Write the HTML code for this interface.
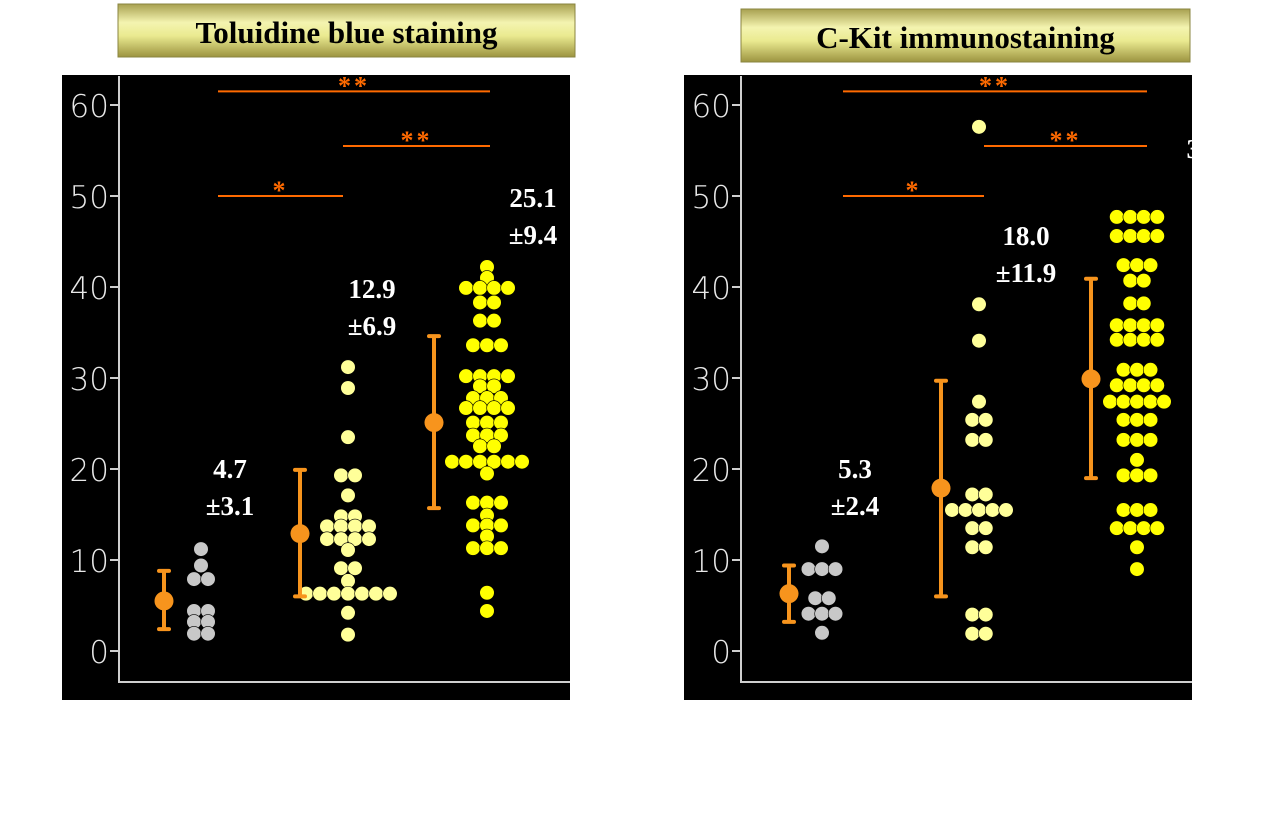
<!DOCTYPE html>
<html><head><meta charset="utf-8"><style>
html,body{margin:0;padding:0;background:#fff;width:1274px;height:836px;overflow:hidden}
svg{display:block}
</style></head><body>
<svg id="chart" width="1274" height="836" xmlns="http://www.w3.org/2000/svg">
<defs><linearGradient id="gold" x1="0" y1="0" x2="0" y2="1">
<stop offset="0" stop-color="#a8a050"/><stop offset="0.35" stop-color="#f4f4b0"/><stop offset="0.6" stop-color="#eaea90"/><stop offset="1" stop-color="#9c9440"/></linearGradient></defs>
</svg>
<script>
// ---- data ----
const yTicks = [0,10,20,30,40,50,60];
const leftTitle = "Toluidine blue staining";
const rightTitle = "C-Kit immunostaining";
const leftG1 = [11.2,9.4,7.9,7.9,4.4,4.4,3.2,3.2,1.9,1.9];
const leftG2 = [31.2,28.9,23.5,19.3,19.3,17.1,14.8,14.8,13.7,13.7,13.7,13.7,12.3,12.3,12.3,12.3,11.1,9.1,9.1,7.7,6.3,6.3,6.3,6.3,6.3,6.3,6.3,4.2,1.8];
const leftG3 = [42.2,41,39.9,39.9,39.9,39.9,38.3,38.3,36.3,36.3,33.6,33.6,33.6,30.2,30.2,30.2,30.2,29.1,29.1,27.8,27.8,27.8,26.7,26.7,26.7,26.7,25.1,25.1,25.1,23.7,23.7,23.7,22.5,22.5,20.8,20.8,20.8,20.8,20.8,20.8,19.5,16.3,16.3,16.3,14.9,13.8,13.8,13.8,12.6,11.3,11.3,11.3,6.4,4.4];
const leftMeans = [5.5,12.9,25.1];
const leftLo = [2.4,6.0,15.7];
const leftHi = [8.8,19.9,34.6];
const leftLabels = [["4.7","±3.1"],["12.9","±6.9"],["25.1","±9.4"]];
const rightG1 = [11.5,9.0,9.0,9.0,5.8,5.8,4.1,4.1,4.1,2.0];
const rightG2 = [57.6,38.1,34.1,27.4,25.4,25.4,23.2,23.2,17.2,17.2,15.5,15.5,15.5,15.5,15.5,13.5,13.5,11.4,11.4,4.0,4.0,1.9,1.9];
const rightG3 = [47.7,47.7,47.7,47.7,45.6,45.6,45.6,45.6,42.4,42.4,42.4,40.7,40.7,38.2,38.2,35.8,35.8,35.8,35.8,34.2,34.2,34.2,34.2,30.9,30.9,30.9,29.2,29.2,29.2,29.2,27.4,27.4,27.4,27.4,27.4,25.4,25.4,25.4,23.2,23.2,23.2,21.0,19.3,19.3,19.3,15.5,15.5,15.5,13.5,13.5,13.5,13.5,11.4,9.0];
const rightMeans = [6.3,17.9,29.9];
const rightLo = [3.2,6.0,19.0];
const rightHi = [9.4,29.7,40.9];
const rightLabels = [["5.3","±2.4"],["18.0","±11.9"],["30","±"]];
const sigLevels = [61.5, 55.5, 50];
const sigText = ["**","**","*"];

const svg = document.getElementById('chart');
const NS = "http://www.w3.org/2000/svg";
function mk(tag, attrs, parent){const e=document.createElementNS(NS,tag);for(const k in attrs)e.setAttribute(k,attrs[k]);(parent||svg).appendChild(e);return e;}
const yScale = v => 651 - v*9.1;

function panel(p){
  const g = mk('g',{});
  
  
  // title
  const tb = mk('rect',{x:p.tx,y:p.ty,width:p.tw,height:53,fill:'url(#gold)',stroke:'#8a8440','stroke-width':1},g);
  
  
  const tt = mk('text',{x:p.tx+p.tw/2,y:p.ty+39,'text-anchor':'middle','font-family':'Liberation Serif, serif','font-weight':'bold','font-size':31,fill:'#000'},g);
  tt.textContent = p.title;
  
  
  // background
  const bg = mk('rect',{x:p.bx,y:75,width:508,height:625,fill:'#000'},g);
  
  
  const ax = p.ax;
  const axl = mk('path',{d:`M${ax} 76 V682 H${p.bx+508}`,stroke:'#cfcfcf','stroke-width':2,fill:'none'},g);
  
  
  yTicks.forEach(t=>{
    const y=yScale(t);
    const tk=mk('line',{x1:ax-9,x2:ax,y1:y,y2:y,stroke:'#cfcfcf','stroke-width':2},g);
    
    
    const tl=mk('text',{x:ax-10,y:y+12,'text-anchor':'end','font-family':'DejaVu Sans, sans-serif','font-weight':'200','font-size':31,fill:'#e8e8e8'},g);
    tl.textContent=t;
    
    
  });
  // significance bars
  const sx=[[p.m1x+54,p.m3x+56],[p.m2x+43,p.m3x+56],[p.m1x+54,p.m2x+43]];
  sigLevels.forEach((lv,i)=>{
    const y=yScale(lv);
    const l=mk('line',{x1:sx[i][0],x2:sx[i][1],y1:y,y2:y,stroke:'#ff6a00','stroke-width':2},g);
    
    
    const s=mk('text',{x:(sx[i][0]+sx[i][1])/2,y:y+3,'text-anchor':'middle','font-family':'Liberation Serif, serif','font-weight':'bold','font-size':26,fill:'#ff6a00','letter-spacing':3},g);
    s.textContent=sigText[i];
    
    
  });
  // dots
  p.groups.forEach((vals,gi)=>{
    const cx=p.dotX[gi], col=p.cols[gi], d=p.dd;
    const counts={};
    vals.forEach(v=>{counts[v]=(counts[v]||0)+1;});
    const idx={};
    vals.forEach(v=>{
      const n=counts[v]; idx[v]=(idx[v]||0);
      const k=idx[v]++;
      const x=cx+(k-(n-1)/2)*d;
      const c=mk('circle',{cx:x,cy:yScale(v),r:7.3,fill:col,stroke:'#000','stroke-width':0.6},g);
      
      
    });
  });
  // mean ± error
  p.means.forEach((m,i)=>{
    const x=p.mx[i];
    const e=mk('line',{x1:x,x2:x,y1:yScale(p.lo[i]),y2:yScale(p.hi[i]),stroke:'#f7941d','stroke-width':4},g);
    
    
    [p.lo[i],p.hi[i]].forEach(v=>{
      const c=mk('line',{x1:x-5,x2:x+5,y1:yScale(v),y2:yScale(v),stroke:'#f7941d','stroke-width':4,'stroke-linecap':'round'},g);
      
      
    });
    const mc=mk('circle',{cx:x,cy:yScale(m),r:9.5,fill:'#f7941d'},g);
    
    
  });
  // value labels
  p.labels.forEach((lb,i)=>{
    [0,1].forEach(j=>{
      const t=mk('text',{x:p.lx[i],y:p.ly[i]+j*37,'text-anchor':'middle','font-family':'Liberation Serif, serif','font-weight':'bold','font-size':27,fill:'#fff'},g);
      t.textContent=lb[j];
      
      
    });
  });
  // clip right
  const cl=mk('rect',{x:p.bx+508,y:70,width:80,height:240,fill:'#fff'},g);
  
  
}
const L={name:'toluidine-panel',title:leftTitle,tx:118,ty:4,tw:457,bx:62,ax:119,
  m1x:164,m2x:300,m3x:434,mx:[164,300,434],dotX:[201,348,487],dd:14,
  cols:['#c8c8c8','#ffff99','#ffff00'],groups:[leftG1,leftG2,leftG3],
  means:leftMeans,lo:leftLo,hi:leftHi,labels:leftLabels,lx:[230,372,533],ly:[478,298,207]};
const R={name:'ckit-panel',title:rightTitle,tx:741,ty:9,tw:449,bx:684,ax:741,
  m1x:789,m2x:941,m3x:1091,mx:[789,941,1091],dotX:[822,979,1137],dd:13.5,
  cols:['#c8c8c8','#ffff99','#ffff00'],groups:[rightG1,rightG2,rightG3],
  means:rightMeans,lo:rightLo,hi:rightHi,labels:rightLabels,lx:[855,1026,1200],ly:[478,245,158]};
panel(L); panel(R);
</script>
</body></html>
